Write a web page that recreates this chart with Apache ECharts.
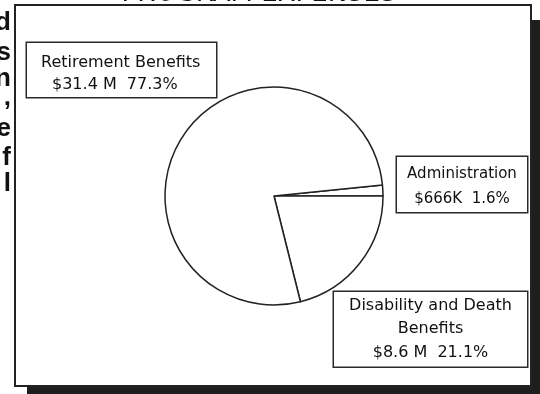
<!DOCTYPE html>
<html>
<head>
<meta charset="utf-8">
<script src="https://cdn.jsdelivr.net/npm/echarts@6/dist/echarts.min.js"></script>
<style>html,body{margin:0;padding:0;background:#fff;}#c{width:540px;height:394px;}</style>
</head>
<body>
<div id="c"></div>
<script>
// ---- data ----
var categories = ['Administration', 'Disability and Death\nBenefits', 'Retirement Benefits'];
var percents = [1.6, 21.1, 77.3];
var amounts = ['$666K', '$8.6 M', '$31.4 M'];
var title = 'PROGRAM EXPENSES';
var marginLetters = ['d', 's', 'n', ',', 'e', 'f', 'l'];

// ---- layout (positions/styles) ----
var FONT = 'DejaVu Sans';
var letterMid = [23, 53, 79, 98, 129, 158, 184];
var labelBoxes = [
  {x: 397, y: 157, width: 130, padding: [5, 0, 0, 0], lineHeight: 25, fontSize: 15, align: 'center'},
  {x: 334, y: 292, width: 193, padding: [2, 0, 2, 0], lineHeight: 23.5, fontSize: 16, align: 'center'},
  {x: 27, y: 43, width: 162, padding: [9, 13, 1, 14], lineHeight: 22, fontSize: 16, align: 'left', indent: 11}
];

var chart = echarts.init(document.getElementById('c'), null, {renderer: 'canvas'});

var pieData = categories.map(function (name, i) {
  var b = labelBoxes[i];
  var rich = {
    a: {fontFamily: FONT, fontSize: b.fontSize, lineHeight: b.lineHeight, color: '#111', align: b.align},
    b: {fontFamily: FONT, fontSize: b.fontSize, lineHeight: b.lineHeight, color: '#111', align: b.align,
        padding: [0, 0, 0, b.indent || 0]}
  };
  var lines = name.split('\n').map(function (s) { return '{a|' + s + '}'; });
  lines.push('{b|' + amounts[i] + '  ' + percents[i].toFixed(1) + '%}');
  return {
    name: name,
    value: percents[i],
    label: {
      formatter: lines.join('\n'),
      rich: rich,
      width: b.width,
      padding: b.padding,
      align: b.align,
      backgroundColor: '#fff',
      borderColor: '#2a2a2a',
      borderWidth: 1.5
    }
  };
});

var graphics = [];
// shadow
graphics.push({type: 'rect', z: -20, shape: {x: 27, y: 20, width: 530, height: 390}, style: {fill: '#1e1e1e'}});
// frame
graphics.push({type: 'rect', z: -10, shape: {x: 15, y: 5, width: 516, height: 381}, style: {fill: '#fff', stroke: '#222', lineWidth: 2}});
// cut-off title
graphics.push({type: 'text', z: 5, style: {text: title, x: 259, y: -6, align: 'center', verticalAlign: 'middle',
  font: '26px "DejaVu Sans"', fill: '#111'}});
// cut-off margin letters
marginLetters.forEach(function (ch, i) {
  graphics.push({type: 'text', z: 5, style: {text: ch, x: 11, y: letterMid[i], align: 'right', verticalAlign: 'middle',
    font: 'bold 26px "Liberation Sans"', fill: '#111'}});
});

chart.setOption({
  animation: false,
  backgroundColor: '#fff',
  graphic: graphics,
  series: [{
    type: 'pie',
    z: 2,
    center: [274, 196],
    radius: 109,
    startAngle: 5.76,
    clockwise: true,
    avoidLabelOverlap: false,
    itemStyle: {color: '#fff', borderColor: '#222', borderWidth: 1.5},
    emphasis: {disabled: true},
    labelLine: {show: false},
    label: {show: true},
    labelLayout: function (params) {
      var b = labelBoxes[params.dataIndex];
      return {x: b.x, y: b.y, align: 'left', verticalAlign: 'top'};
    },
    data: pieData
  }]
});
</script>
</body>
</html>
